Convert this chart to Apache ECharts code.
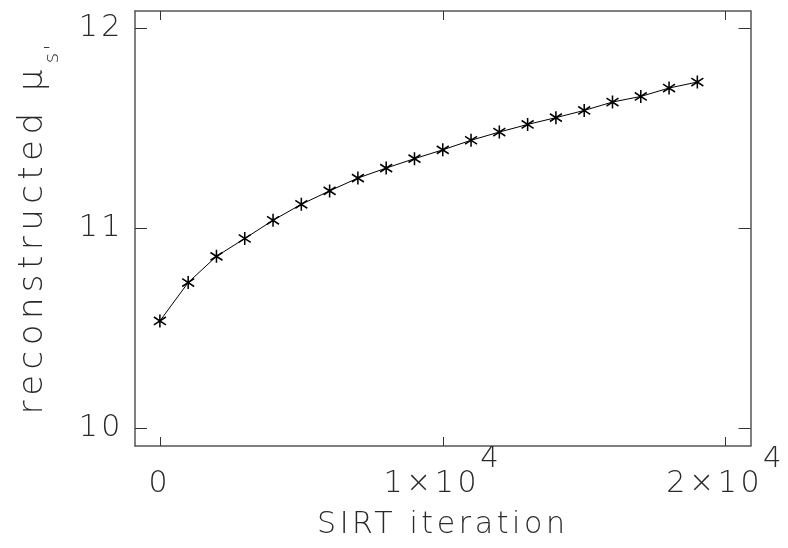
<!DOCTYPE html>
<html>
<head>
<meta charset="utf-8">
<script src="https://cdn.jsdelivr.net/npm/echarts@6/dist/echarts.min.js"></script>
<style>
html,body{margin:0;padding:0;background:#fff;}
#chart{width:788px;height:548px;}
</style>
</head>
<body>
<div id="chart"></div>
<script>
// ---- data ----
const iterations = [0,1000,2000,3000,4000,5000,6000,7000,8000,9000,10000,11000,12000,13000,14000,15000,16000,17000,18000,19000];
const muValues = [10.538,10.730,10.861,10.950,11.041,11.121,11.188,11.252,11.302,11.349,11.393,11.441,11.482,11.520,11.554,11.590,11.632,11.660,11.702,11.732];
const xTickValues = [0,10000,20000];
const xTickMantissa = ['0','1×10','2×10'];
const xTickExponent = ['\u200B','4','4'];
const yTickValues = [10,11,12];
const yTickLabels = ['10','11','12'];
const xRange = [-880,20880];
const yRange = [9.913,12.087];

// wide, thin lettering (the reference uses a widely spaced stroke font)
(function(){
  const proto = CanvasRenderingContext2D.prototype;
  if (!('letterSpacing' in proto)) return;
  function spacing(font){
    font = font || '';
    const m = /(\d+(?:\.\d+)?)px/.exec(font);
    const size = m ? parseFloat(m[1]) : 12;
    const em = font.indexOf('Noto Sans') >= 0 ? 0.16 : 0.12;
    return (size*em)+'px';
  }
  const of = proto.fillText, om = proto.measureText;
  proto.fillText = function(t,x,y,w){
    const p = this.letterSpacing; this.letterSpacing = spacing(this.font);
    const r = (w === undefined) ? of.call(this,t,x,y) : of.call(this,t,x,y,w);
    this.letterSpacing = p; return r;
  };
  proto.measureText = function(t){
    const p = this.letterSpacing; this.letterSpacing = spacing(this.font);
    const r = om.call(this,t);
    this.letterSpacing = p; return r;
  };
})();

const FONT = "'DejaVu Sans', sans-serif";
const FONT_Y = "'DejaVu Sans', 'Noto Sans', sans-serif";
const TXT = '#2a2a2a';
const AXC = '#555';

const chart = echarts.init(document.getElementById('chart'), null, {renderer:'canvas'});

const asterisk = 'path://M0,-10L0,10M-9,-6L9,6M-9,6L9,-6';

const option = {
  animation:false,
  backgroundColor:'#fff',
  grid:{left:135,right:36,top:11,bottom:102,containLabel:false},
  xAxis:[{
    type:'value', position:'bottom', min:xRange[0], max:xRange[1],
    axisLine:{show:true,onZero:false,lineStyle:{color:AXC,width:1.5}},
    splitLine:{show:false},
    axisTick:{show:true,inside:true,length:9,customValues:xTickValues,lineStyle:{color:'#333',width:1}},
    axisLabel:{
      show:true, margin:25, customValues:xTickValues,
      formatter:function(v){
        const i = xTickValues.indexOf(v);
        return '{a|'+xTickMantissa[i]+'}{b|'+xTickExponent[i]+'}';
      },
      rich:{
        a:{fontFamily:FONT,fontWeight:200,fontSize:30,lineHeight:30,color:TXT,verticalAlign:'bottom'},
        b:{fontFamily:FONT,fontWeight:200,fontSize:29,lineHeight:29,color:TXT,verticalAlign:'bottom',padding:[0,0,25,0]}
      }
    },
    name:'SIRT iteration', nameLocation:'middle', nameGap:62,
    nameTextStyle:{fontFamily:FONT,fontWeight:200,fontSize:30,color:TXT}
  },{
    type:'value', position:'top', min:xRange[0], max:xRange[1],
    axisLine:{show:true,onZero:false,lineStyle:{color:AXC,width:1.5}},
    splitLine:{show:false},
    axisTick:{show:true,inside:true,length:9,customValues:xTickValues,lineStyle:{color:'#333',width:1}},
    axisLabel:{show:false}
  }],
  yAxis:[{
    type:'value', position:'left', min:yRange[0], max:yRange[1],
    axisLine:{show:true,onZero:false,lineStyle:{color:AXC,width:1.5}},
    splitLine:{show:false},
    axisTick:{show:true,inside:true,length:12,customValues:yTickValues,lineStyle:{color:'#333',width:1}},
    axisLabel:{
      show:true, margin:11, customValues:yTickValues,
      formatter:function(v){ return yTickLabels[yTickValues.indexOf(v)]; },
      fontFamily:FONT,fontWeight:200,fontSize:30,color:TXT,
      padding:[0,0,10,0]
    },
    name:'{a|reconstructed }{m|μ}{s|s}{p|\'}',
    nameLocation:'middle', nameRotate:90, nameGap:71,
    nameTextStyle:{
      rich:{
        a:{fontFamily:FONT_Y,fontWeight:200,fontSize:34,lineHeight:62,color:TXT,verticalAlign:'middle'},
        m:{fontFamily:FONT_Y,fontWeight:200,fontSize:34,lineHeight:62,color:TXT,verticalAlign:'middle'},
        s:{fontFamily:FONT,fontWeight:200,fontSize:20,lineHeight:20,color:TXT,verticalAlign:'bottom',padding:[0,0,0,1]},
        p:{fontFamily:FONT,fontWeight:200,fontSize:20,lineHeight:20,color:TXT,verticalAlign:'bottom'}
      }
    }
  },{
    type:'value', position:'right', min:yRange[0], max:yRange[1],
    axisLine:{show:true,onZero:false,lineStyle:{color:AXC,width:1.5}},
    splitLine:{show:false},
    axisTick:{show:true,inside:true,length:12,customValues:yTickValues,lineStyle:{color:'#333',width:1}},
    axisLabel:{show:false}
  }],
  series:[{
    type:'line',
    xAxisIndex:0, yAxisIndex:0,
    data: iterations.map((x,i)=>[x,muValues[i]]),
    symbol:asterisk, symbolSize:[12,13],
    lineStyle:{color:'#000',width:1},
    itemStyle:{color:'rgba(0,0,0,0)',borderColor:'#000',borderWidth:1.6},
    emphasis:{disabled:true}
  }]
};
chart.setOption(option);
</script>
</body>
</html>
